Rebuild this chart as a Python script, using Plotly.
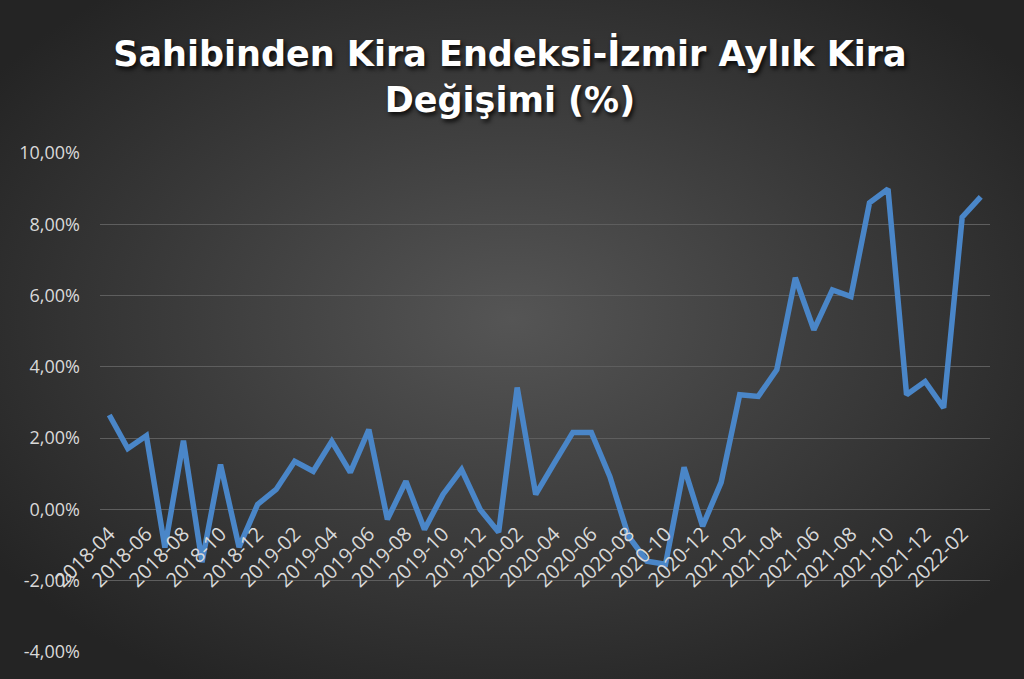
import base64
import plotly.graph_objects as go

months = [
    "2018-04", "2018-05", "2018-06", "2018-07", "2018-08", "2018-09", "2018-10", "2018-11", "2018-12",
    "2019-01", "2019-02", "2019-03", "2019-04", "2019-05", "2019-06", "2019-07", "2019-08", "2019-09",
    "2019-10", "2019-11", "2019-12", "2020-01", "2020-02", "2020-03", "2020-04", "2020-05", "2020-06",
    "2020-07", "2020-08", "2020-09", "2020-10", "2020-11", "2020-12", "2021-01", "2021-02", "2021-03",
    "2021-04", "2021-05", "2021-06", "2021-07", "2021-08", "2021-09", "2021-10", "2021-11", "2021-12",
    "2022-01", "2022-02", "2022-03",
]
change_pct = [
    2.65, 1.71, 2.07, -1.07, 1.93, -1.48, 1.26, -1.06, 0.14,
    0.56, 1.35, 1.07, 1.91, 1.04, 2.24, -0.28, 0.79, -0.56,
    0.42, 1.12, 0.00, -0.64, 3.42, 0.42, 1.30, 2.16, 2.16,
    0.92, -0.75, -1.45, -1.54, 1.18, -0.47, 0.76, 3.22, 3.17,
    3.92, 6.50, 5.04, 6.16, 5.97, 8.60, 8.99, 3.22, 3.59,
    2.85, 8.20, 8.77,
]
y_ticks = [-4, -2, 0, 2, 4, 6, 8, 10]
y_tick_labels = [f"{v:.2f}".replace(".", ",") + "%" for v in y_ticks]
title_text = "Sahibinden Kira Endeksi-İzmir Aylık Kira<br>Değişimi (%)"

W, H = 1024, 679
ML, MR, MT, MB = 100, 34, 153, 27
PW, PH = W - ML - MR, H - MT - MB
Y_MIN, Y_MAX = -4, 10

svg = f"""<svg xmlns='http://www.w3.org/2000/svg' width='{W}' height='{H}' viewBox='0 0 {W} {H}' preserveAspectRatio='none'>
<defs><radialGradient id='g' cx='0.5' cy='0.47' r='0.62'>
<stop offset='0' stop-color='#555555'/><stop offset='1' stop-color='#242424'/></radialGradient></defs>
<rect width='{W}' height='{H}' fill='url(#g)'/></svg>"""
bg_src = "data:image/svg+xml;base64," + base64.b64encode(svg.encode()).decode()

fig = go.Figure()
fig.add_trace(go.Scatter(
    x=months, y=change_pct, mode="lines",
    line=dict(color="#4a86c8", width=5.5),
    hoverinfo="x+y", showlegend=False,
))
# invisible companion trace so that the category axis can sit on the zero line
fig.add_trace(go.Scatter(
    x=months, y=change_pct, yaxis="y2", mode="lines",
    line=dict(width=0), opacity=0, hoverinfo="skip", showlegend=False,
))

frac0 = (0 - Y_MIN) / (Y_MAX - Y_MIN)

fig.update_layout(
    width=W, height=H,
    margin=dict(l=ML, r=MR, t=MT, b=MB, autoexpand=False),
    paper_bgcolor="#383838",
    plot_bgcolor="rgba(0,0,0,0)",
    showlegend=False,
    title=dict(
        text=title_text, x=0.498, xanchor="center",
        y=1 - 66 / H, yanchor="middle", yref="container",
        font=dict(family="DejaVu Sans", size=35, color="#ffffff", weight="bold",
                  shadow="2px 3px 4px rgba(0,0,0,0.8)"),
    ),
    xaxis=dict(
        type="category", range=[-0.5, len(months) - 0.5],
        anchor="y2", tickmode="array", tickvals=months[::2], ticktext=months[::2],
        tickangle=-45, showgrid=False, showline=False, ticks="", zeroline=False,
        tickfont=dict(family="Open Sans", size=20, color="#d9d9d9"),
        ticklabelstandoff=8, automargin=False,
    ),
    yaxis=dict(
        range=[Y_MIN, Y_MAX], tickmode="array", tickvals=y_ticks, ticktext=y_tick_labels,
        showgrid=True, gridcolor="#5e5e5e", gridwidth=1, zeroline=False,
        showline=False, ticks="", ticklabelstandoff=19,
        tickfont=dict(family="Open Sans", size=18, color="#d9d9d9"),
        automargin=False,
    ),
    yaxis2=dict(domain=[frac0, 1], visible=False, showgrid=False, range=[Y_MIN, Y_MAX]),
    images=[dict(
        source=bg_src, xref="paper", yref="paper",
        x=-ML / PW, y=1 + MT / PH, sizex=W / PW, sizey=H / PH,
        xanchor="left", yanchor="top", sizing="stretch", layer="below",
    )],
)

fig.write_html(
    "out.html",
    config={"displayModeBar": False},
    post_script="document.body.style.margin='0';document.body.style.overflow='hidden';",
)
